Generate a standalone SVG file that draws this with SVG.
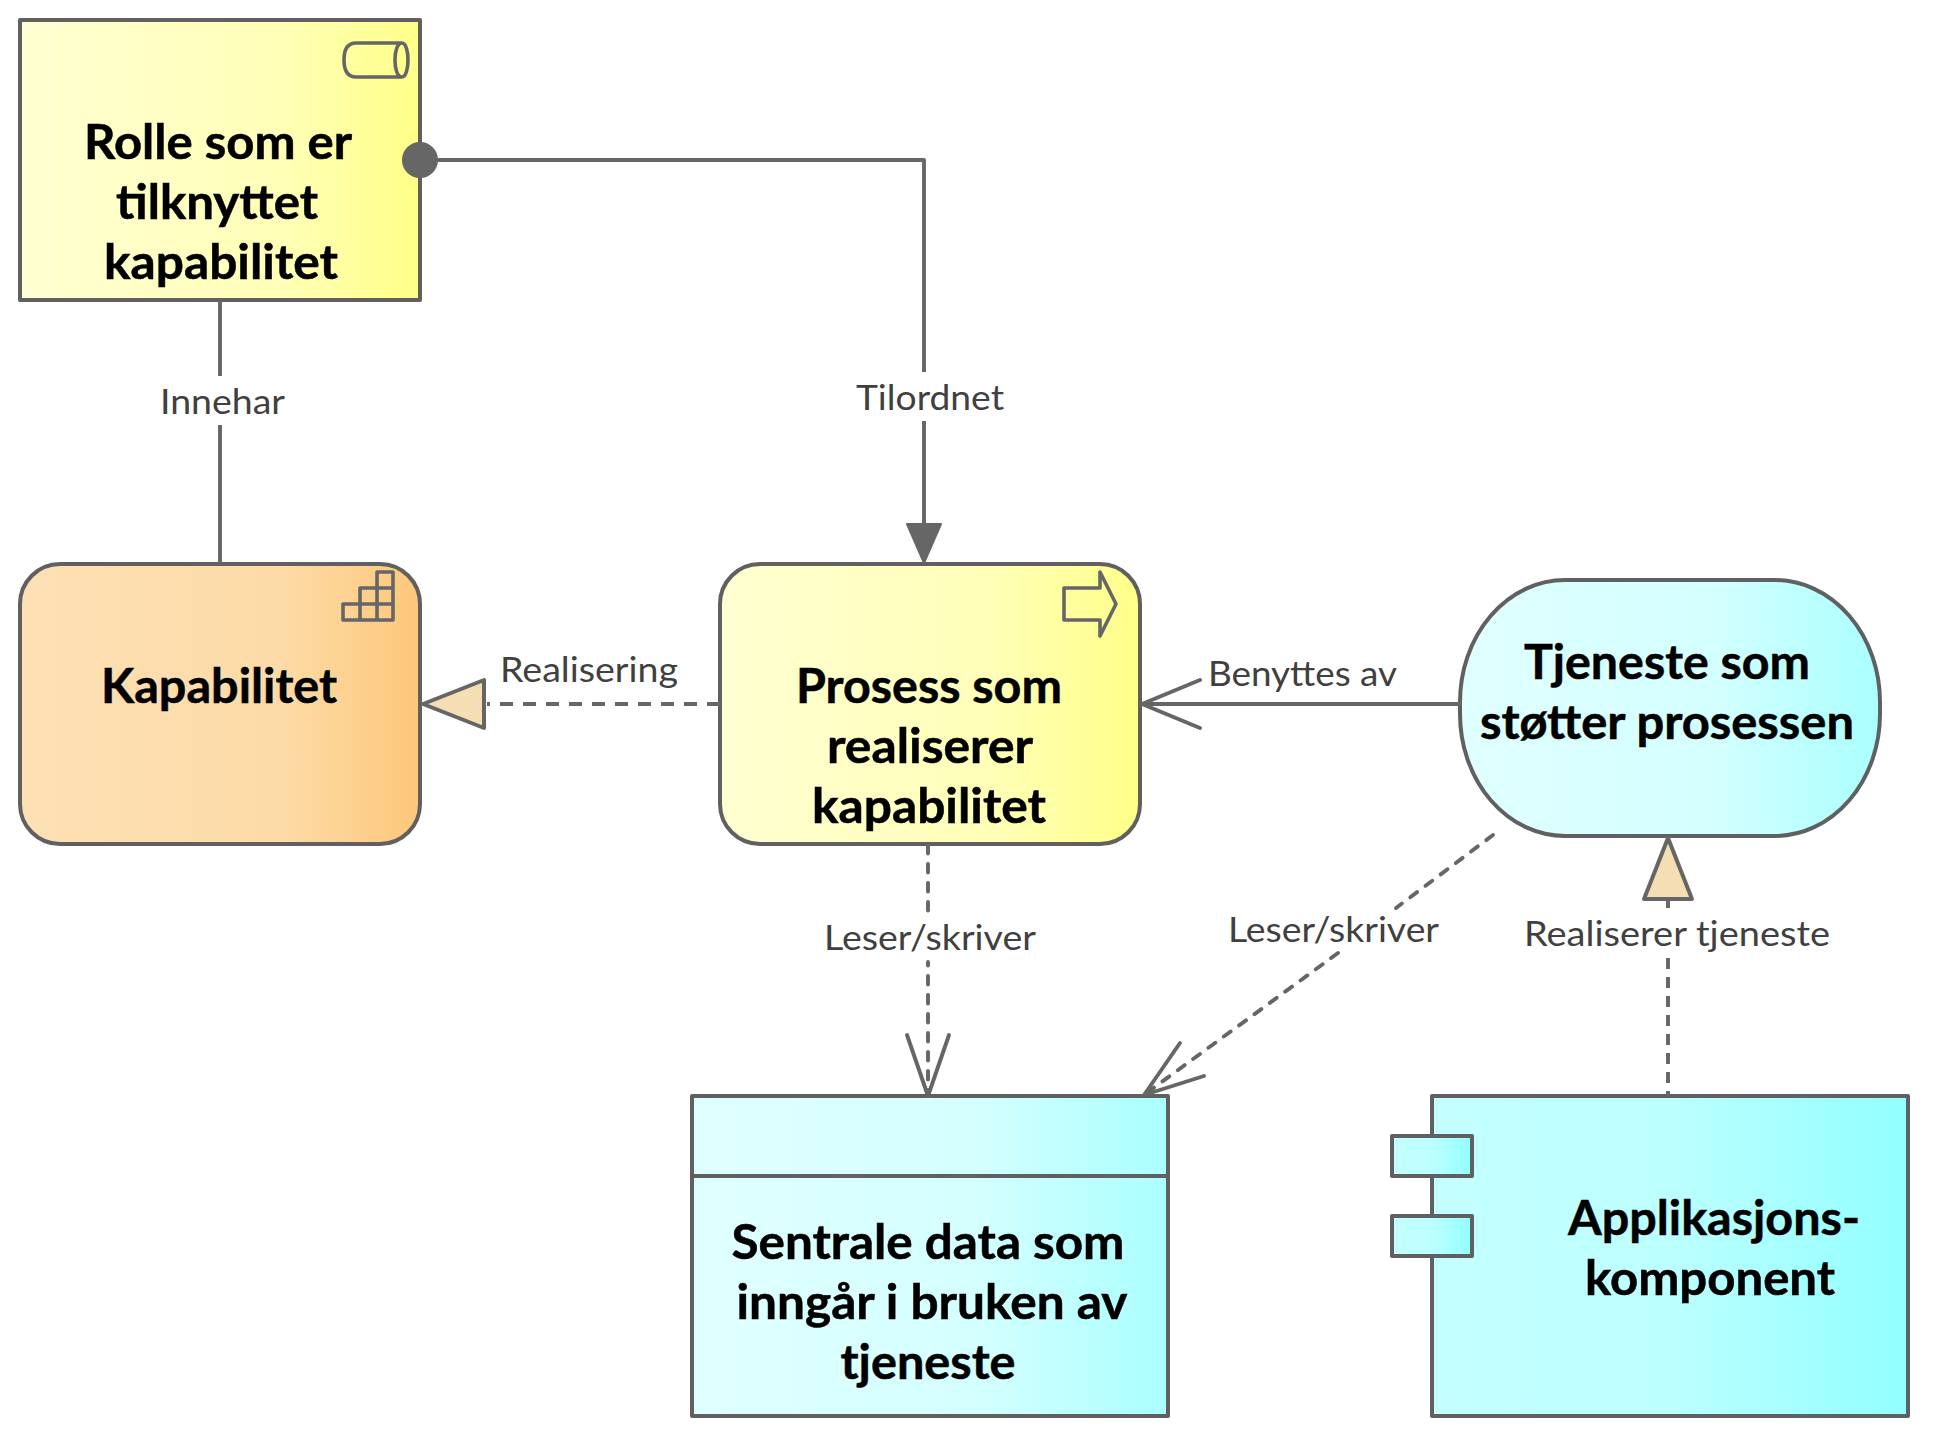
<svg xmlns="http://www.w3.org/2000/svg" width="1935" height="1441" viewBox="0 0 1935 1441">
<style>
.n{stroke:#606060;stroke-width:4;stroke-linejoin:round}
.ic{fill:none;stroke:#666;stroke-width:3.6;stroke-linejoin:round}
.t{font-family:Lato,"Liberation Sans",sans-serif;font-weight:700;font-size:47px;fill:#000;stroke:#000;stroke-width:.5;text-anchor:middle}
.l{font-family:Lato,"Liberation Sans",sans-serif;font-size:35px;fill:#404040}
.c{fill:none;stroke:#666;stroke-width:3.9;stroke-linejoin:round;stroke-linecap:round}
.b{stroke-linecap:butt}
.d{stroke-dasharray:13 10;stroke-width:4;stroke-linecap:butt}
.r{stroke-dasharray:8.5 10.5;stroke-linecap:round}
.tri{fill:#f5deb3;stroke:#666;stroke-width:4;stroke-linejoin:round}
.s{fill:#666;stroke:#666;stroke-width:2;stroke-linejoin:round}
</style>
<defs>
<linearGradient id="y"><stop offset="0" stop-color="#ffffd2"/><stop offset=".65" stop-color="#ffffb8"/><stop offset="1" stop-color="#ffff88"/></linearGradient>
<linearGradient id="o"><stop offset="0" stop-color="#fde0b4"/><stop offset=".65" stop-color="#fddba8"/><stop offset="1" stop-color="#fdc77a"/></linearGradient>
<linearGradient id="b"><stop offset="0" stop-color="#e0ffff"/><stop offset=".6" stop-color="#d4ffff"/><stop offset="1" stop-color="#aaffff"/></linearGradient>
<linearGradient id="a"><stop offset="0" stop-color="#c4ffff"/><stop offset=".5" stop-color="#bcffff"/><stop offset="1" stop-color="#92ffff"/></linearGradient>
</defs>
<rect width="1935" height="1441" fill="#fff"/>
<g id="node-rolle">
<rect class="n" x="20" y="20" width="400" height="280" fill="url(#y)"/>
<path class="ic" d="M402 43H356Q344 43 344 60Q344 77 356 77H402M402 43C397 43 395 52 395 60C395 68 397 77 402 77C406 77 408 68 408 60C408 52 406 43 402 43Z"/>
<text class="t" x="218" y="159" textLength="268" lengthAdjust="spacingAndGlyphs">Rolle som er</text>
<text class="t" x="217" y="219" textLength="202" lengthAdjust="spacingAndGlyphs">tilknyttet</text>
<text class="t" x="221" y="279" textLength="234" lengthAdjust="spacingAndGlyphs">kapabilitet</text>
</g>
<g id="node-kapabilitet">
<rect class="n" x="20" y="564" width="400" height="280" rx="40" ry="40" fill="url(#o)"/>
<path class="ic" d="M343 620V604H360V588H377V572H393V620ZM343 604H393M360 588H393M360 604V620M377 588V620"/>
<text class="t" x="219" y="703" textLength="236" lengthAdjust="spacingAndGlyphs">Kapabilitet</text>
</g>
<g id="node-prosess">
<rect class="n" x="720" y="564" width="420" height="280" rx="40" ry="40" fill="url(#y)"/>
<path class="ic" d="M1064 588H1100V572L1116 604L1100 636V620H1064Z"/>
<text class="t" x="929" y="703" textLength="266" lengthAdjust="spacingAndGlyphs">Prosess som</text>
<text class="t" x="930" y="763" textLength="206" lengthAdjust="spacingAndGlyphs">realiserer</text>
<text class="t" x="929" y="823" textLength="234" lengthAdjust="spacingAndGlyphs">kapabilitet</text>
</g>
<g id="node-tjeneste">
<rect class="n" x="1460" y="580" width="420" height="256" rx="105" ry="122" fill="url(#b)"/>
<text class="t" x="1667" y="679" textLength="286" lengthAdjust="spacingAndGlyphs">Tjeneste som</text>
<text class="t" x="1667" y="739" textLength="374" lengthAdjust="spacingAndGlyphs">støtter prosessen</text>
</g>
<g id="node-data">
<rect class="n" x="692" y="1096" width="476" height="320" fill="url(#b)"/>
<path class="n" fill="none" d="M692 1176H1168"/>
<text class="t" x="928" y="1259" textLength="393" lengthAdjust="spacingAndGlyphs">Sentrale data som</text>
<text class="t" x="932" y="1319" textLength="391" lengthAdjust="spacingAndGlyphs">inngår i bruken av</text>
<text class="t" x="928" y="1379" textLength="175" lengthAdjust="spacingAndGlyphs">tjeneste</text>
</g>
<g id="node-komponent">
<rect class="n" x="1432" y="1096" width="476" height="320" fill="url(#a)"/>
<rect class="n" x="1392" y="1136" width="80" height="40" fill="url(#a)"/>
<rect class="n" x="1392" y="1216" width="80" height="40" fill="url(#a)"/>
<text class="t" x="1714" y="1235" textLength="292" lengthAdjust="spacingAndGlyphs">Applikasjons-</text>
<text class="t" x="1710" y="1295" textLength="250" lengthAdjust="spacingAndGlyphs">komponent</text>
</g>
<g id="connectors">
<path class="c b" d="M220 300V376M220 425V564"/>
<circle class="s" cx="420" cy="160" r="17"/>
<path class="c b" d="M437 160H924V372M924 421V525"/>
<polygon class="s" points="907,524 941,524 924,563"/>
<path class="c d" d="M487 704H720" style="stroke-dashoffset:10"/>
<polygon class="tri" points="423,704 484,680 484,728"/>
<path class="c" d="M1460 704H1142M1200 680L1142 704L1200 728"/>
<path class="c r" d="M928 845V911"/>
<path class="c r" d="M928 962V1096" style="stroke-dashoffset:5"/>
<path class="c" d="M907 1035L928 1096L949 1035"/>
<path class="c r" d="M1493 835L1396 908"/>
<path class="c r" d="M1338 953L1148 1092"/>
<path class="c" d="M1180 1043L1144 1095L1204 1076"/>
<polygon class="tri" points="1668,838 1692,899 1644,899"/>
<path class="c b" stroke-dasharray="11 8" d="M1668 900V908M1668 958V1096"/>
</g>
<g id="labels">
<text class="l" x="160" y="414" textLength="125" lengthAdjust="spacingAndGlyphs">Innehar</text>
<text class="l" x="856" y="410" textLength="148" lengthAdjust="spacingAndGlyphs">Tilordnet</text>
<text class="l" x="500" y="682" textLength="178" lengthAdjust="spacingAndGlyphs">Realisering</text>
<text class="l" x="1208" y="686" textLength="189" lengthAdjust="spacingAndGlyphs">Benyttes av</text>
<text class="l" x="824" y="950" textLength="212" lengthAdjust="spacingAndGlyphs">Leser/skriver</text>
<text class="l" x="1228" y="942" textLength="211" lengthAdjust="spacingAndGlyphs">Leser/skriver</text>
<text class="l" x="1524" y="946" textLength="306" lengthAdjust="spacingAndGlyphs">Realiserer tjeneste</text>
</g>
</svg>
